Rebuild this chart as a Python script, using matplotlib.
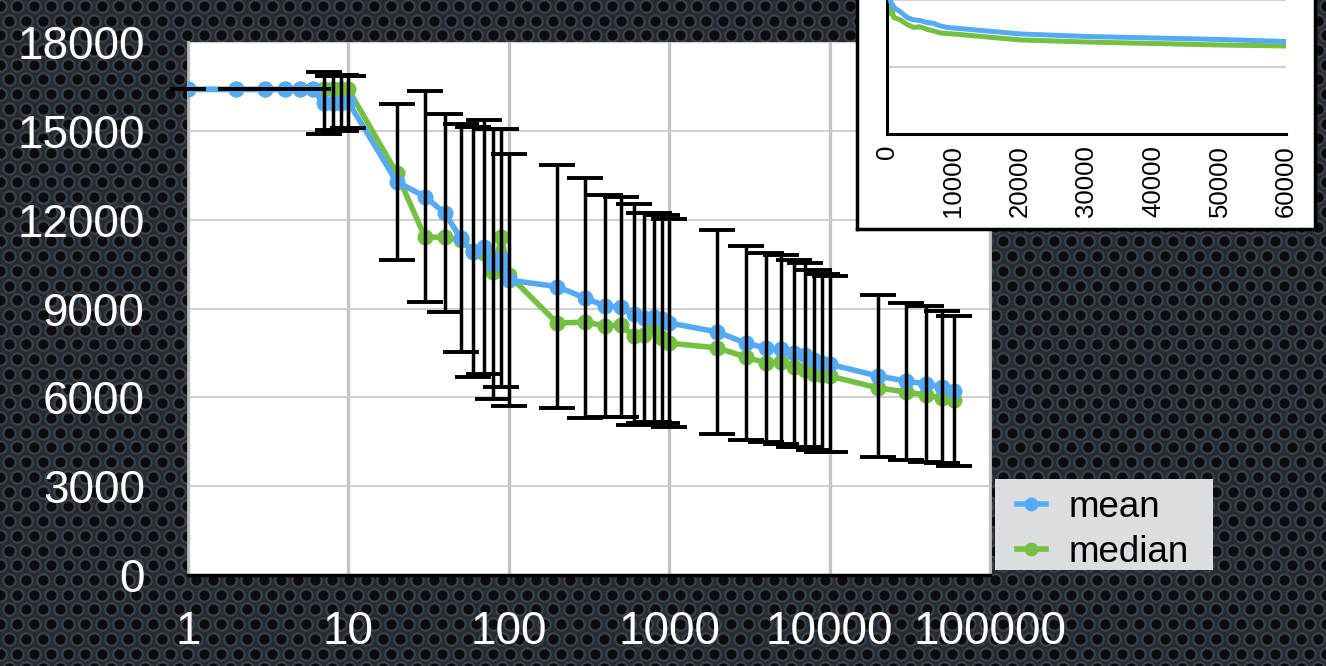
import matplotlib.pyplot as plt
from matplotlib.patches import Rectangle
import numpy as np

plt.rcParams['font.family'] = ['Liberation Sans', 'DejaVu Sans']

# iterations (x), mean / median score and spread
x_vals = [1, 2, 3, 4, 5, 6, 7, 8, 9, 10,
          20, 30, 40, 50, 60, 70, 80, 90, 100,
          200, 300, 400, 500, 600, 700, 800, 900, 1000,
          2000, 3000, 4000, 5000, 6000, 7000, 8000, 9000, 10000,
          20000, 30000, 40000, 50000, 60000]
mean_vals = [16400, 16400, 16400, 16400, 16400, 16400, 15940, 15940, 15940, 15970,
             13280, 12780, 12220, 11380, 10910, 11080, 10500, 10700, 9960,
             9740, 9350, 9080, 9050, 8810, 8680, 8710, 8640, 8510,
             8210, 7830, 7670, 7620, 7490, 7430, 7260, 7160, 7120,
             6720, 6550, 6450, 6350, 6210]
median_vals = [16400, 16400, 16400, 16400, 16400, 16400, 16400, 16400, 16400, 16400,
               13570, 11410, 11410, 11300, 10950, 10870, 10230, 11410, 10130,
               8510, 8540, 8410, 8440, 8070, 8100, 8380, 8000, 7830,
               7670, 7360, 7160, 7200, 7030, 6920, 6790, 6750, 6720,
               6320, 6180, 6080, 5980, 5910]
std_vals = [0, 0, 0, 0, 0, 0, 1050, 900, 950, 880,
            2630, 3550, 3340, 3860, 4220, 4290, 4560, 4360, 4260,
            4090, 4050, 3750, 3730, 3730, 3550, 3530, 3520, 3510,
            3440, 3280, 3190, 3190, 3160, 3100, 3040, 3000, 2970,
            2750, 2650, 2620, 2570, 2520]

y_ticks = [0, 3000, 6000, 9000, 12000, 15000, 18000]
x_ticks = [1, 10, 100, 1000, 10000, 100000]
x_tick_labels = ['1', '10', '100', '1000', '10000', '100000']
inset_x_ticks = [0, 10000, 20000, 30000, 40000, 50000, 60000]

blue = '#55aaf6'
green = '#74c043'
W, H = 1326, 666

fig = plt.figure(figsize=(W / 100, H / 100), dpi=100)
fig.patch.set_facecolor('#262a31')

# perforated metal background
bg = fig.add_axes([0, 0, 1, 1], zorder=-5)
bg.set_xlim(0, W)
bg.set_ylim(0, H)
bg.axis('off')
step = 17.0
hx, hy = [], []
for r, yy in enumerate(np.arange(-step, H + step, step * 0.866)):
    off = (step / 2) if r % 2 else 0
    for xx in np.arange(-step + off, W + step, step):
        hx.append(xx)
        hy.append(yy)
bg.scatter(hx, hy, s=80, facecolor='#0f0a0c', edgecolor='#3a424d', linewidth=1.6)

# main chart
ax = fig.add_axes([188 / W, 1 - 575 / H, 802 / W, 533 / H], zorder=1)
ax.set_facecolor('white')
ax.set_xscale('log')
ax.set_xlim(1, 100000)
ax.set_ylim(0, 18000)

ax.plot(x_vals, median_vals, color=green, lw=4.0, marker='o', ms=10.5, label='median', zorder=3)
ax.plot(x_vals, mean_vals, color=blue, lw=4.0, marker='o', ms=10.5, label='mean', zorder=4)
ax.errorbar(x_vals, mean_vals, yerr=std_vals, fmt='none', ecolor='black',
            elinewidth=2.5, capsize=13, capthick=2.8, zorder=5, clip_on=False)

ax.set_yticks(y_ticks)
ax.set_xticks(x_ticks)
ax.set_xticklabels(x_tick_labels)
ax.xaxis.set_minor_locator(plt.NullLocator())
ax.tick_params(axis='both', length=0, labelsize=33, labelcolor='white')
ax.tick_params(axis='y', pad=31)
ax.tick_params(axis='x', pad=25)
ax.grid(axis='y', color='#c8c8c8', lw=1.2)
ax.grid(axis='x', color='#c4c4c4', lw=2.4)
ax.set_axisbelow(True)
ax.spines['top'].set_visible(False)
ax.spines['left'].set_color('#bdbdbd')
ax.spines['left'].set_linewidth(2)
ax.spines['right'].set_color('#c4c4c4')
ax.spines['right'].set_linewidth(2)
ax.spines['bottom'].set_color('black')
ax.spines['bottom'].set_linewidth(2.5)

# legend on a light grey panel
fig.patches.append(Rectangle((995 / W, 1 - 570 / H), 218 / W, 91 / H,
                             transform=fig.transFigure, facecolor='#dcdde0',
                             edgecolor='none', zorder=2))
handles, labels = ax.get_legend_handles_labels()
leg = fig.legend(handles[::-1], labels[::-1], loc='center left',
                 bbox_to_anchor=(1017 / W, 1 - 530 / H), fontsize=26.5,
                 frameon=False, borderaxespad=0, borderpad=0,
                 handlelength=0.78, handletextpad=0.62,
                 labelspacing=0.27, markerscale=0.85)
leg.set_zorder(3)

# inset box with linear x axis
box = fig.add_axes([857 / W, 1 - 229 / H, 458 / W, 0.45], zorder=6)
box.set_facecolor('white')
box.set_xticks([])
box.set_yticks([])
for s in box.spines.values():
    s.set_color('black')
    s.set_linewidth(2.5)

ins = fig.add_axes([887 / W, 1 - 134 / H, 399 / W, 268 / H], zorder=7)
ins.patch.set_alpha(0)
ins.plot(x_vals, mean_vals, color=blue, lw=3.6, zorder=3)
ins.plot(x_vals, median_vals, color=green, lw=3.6, zorder=2)
ins.set_xlim(0, 60000)
ins.set_ylim(0, 18000)
ins.set_yticks([0, 4500, 9000, 13500, 18000])
ins.set_yticklabels([])
ins.set_xticks(inset_x_ticks)
ins.set_xticklabels([str(v) for v in inset_x_ticks], rotation=90)
ins.tick_params(axis='both', length=0, labelsize=18.5, labelcolor='black')
ins.tick_params(axis='x', pad=8)
ins.grid(axis='y', color='#c8c8c8', lw=1.2)
ins.set_axisbelow(True)
ins.spines['top'].set_visible(False)
ins.spines['right'].set_visible(False)
ins.spines['left'].set_linewidth(2.2)
ins.spines['bottom'].set_linewidth(2.2)

fig.savefig('out.png', dpi=100, facecolor=fig.get_facecolor())
